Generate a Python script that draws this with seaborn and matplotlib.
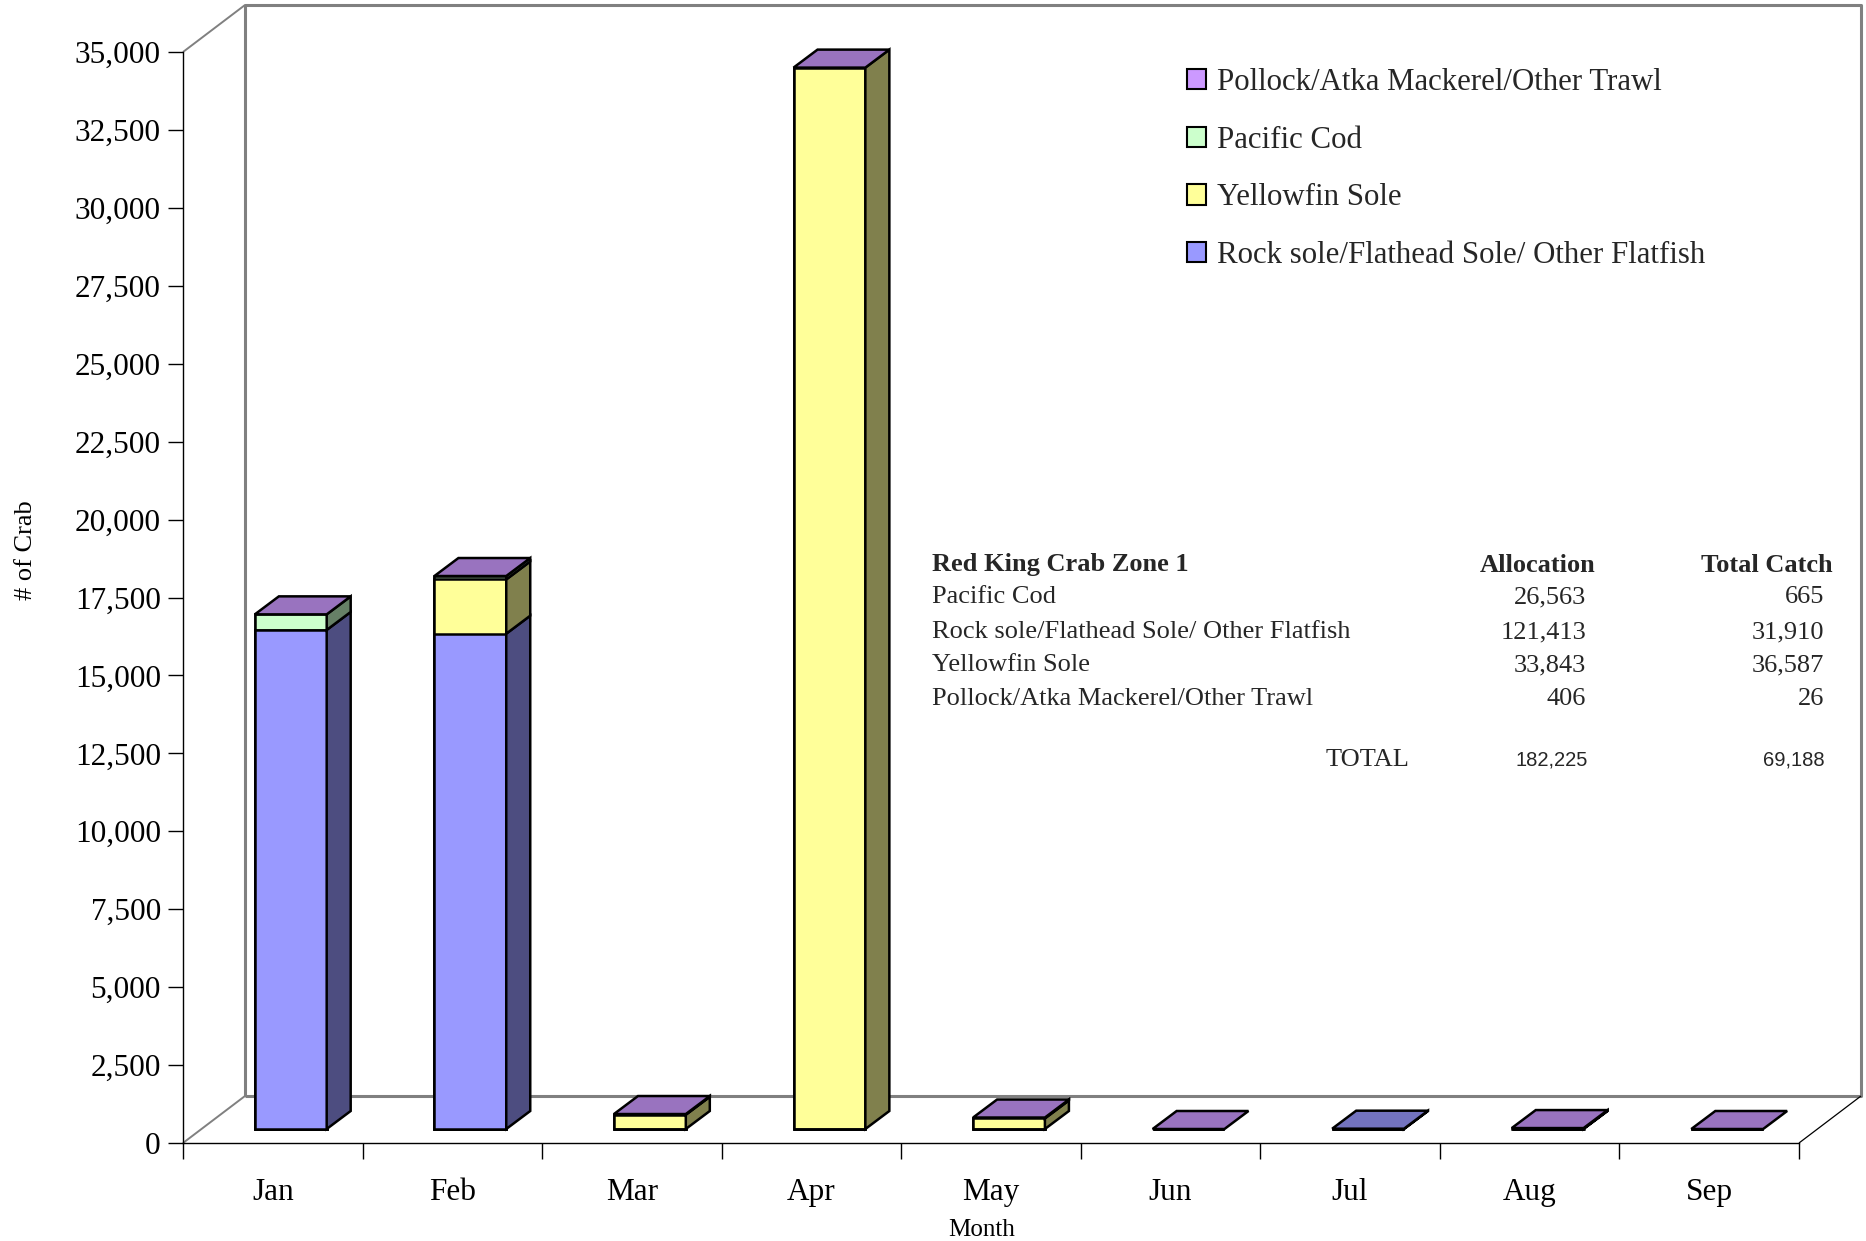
import numpy as np
import pandas as pd
import matplotlib
matplotlib.use("Agg")
import matplotlib.pyplot as plt
import seaborn as sns
from matplotlib.patches import Polygon, Patch
from matplotlib.lines import Line2D
from matplotlib.transforms import ScaledTranslation
from matplotlib.ticker import FuncFormatter, FixedLocator, FixedFormatter, NullFormatter

# ---------------- data ----------------
months = ["Jan", "Feb", "Mar", "Apr", "May", "Jun", "Jul", "Aug", "Sep"]
rock_sole = [16010, 15890, 0, 0, 0, 0, 10, 0, 0]
yellowfin = [0, 1740, 457, 34050, 340, 0, np.nan, 0, 0]
pacific_cod = [500, 110, 20, 0, 25, 0, np.nan, 10, 0]
pollock = [0, 0, 3, 0, 3, 0, np.nan, 20, 0]

series_names = ["Rock sole/Flathead Sole/ Other Flatfish", "Yellowfin Sole",
                "Pacific Cod", "Pollock/Atka Mackerel/Other Trawl"]
front_colors = ["#9999FF", "#FFFF99", "#CCFFCC", "#CC99FF"]
side_colors = ["#4D4D80", "#80804D", "#668066", "#664D80"]
top_colors = ["#7373BF", "#BFBF73", "#99BF99", "#9973BF"]

table_title = "Red King Crab Zone 1"
table_headers = ["Allocation", "Total Catch"]
table_species = ["Pacific Cod", "Rock sole/Flathead Sole/ Other Flatfish",
                 "Yellowfin Sole", "Pollock/Atka Mackerel/Other Trawl"]
table_allocation = ["26,563", "121,413", "33,843", "406"]
table_catch = ["665", "31,910", "36,587", "26"]
table_totals = ["182,225", "69,188"]

# ---------------- style ----------------
sns.set_theme(style="white")
plt.rcParams["font.family"] = ["Liberation Serif", "DejaVu Serif"]

W, H = 1866, 1241
fig = plt.figure(figsize=(W / 100, H / 100), dpi=100)
fig.patch.set_facecolor("white")
ax = fig.add_axes([183 / W, 1 - 1143 / H, 1616 / W, 1091 / H])
ax.set_facecolor("none")

vals = np.array([rock_sole, yellowfin, pacific_cod, pollock], dtype=float)
filled = np.nan_to_num(vals)
cum = np.cumsum(filled, axis=0)
bottoms = cum - filled

front_off = ScaledTranslation(18 / 100, 14 / 100, fig.dpi_scale_trans)
tr = ax.transData + front_off

patches_by_series = {}
for k in reversed(range(4)):
    df = pd.DataFrame({"Month": months, "Top": cum[k]})
    n0 = len(ax.patches)
    sns.barplot(data=df, x="Month", y="Top", order=months, color=front_colors[k],
                saturation=1, width=0.4, edgecolor="black", linewidth=1.8,
                errorbar=None, ax=ax, zorder=3)
    new = list(ax.patches[n0:])
    new.sort(key=lambda p: p.get_x())
    for p in new:
        p.set_transform(tr)
        p.set_clip_on(False)
    patches_by_series[k] = new

ax.set_xlim(-0.5, 8.5)
ax.set_ylim(0, 35000)

# depth of bars in data units
p0 = ax.transData.transform((0, 0))
pxu = ax.transData.transform((1, 0))[0] - p0[0]
pyu = ax.transData.transform((0, 1000))[1] - p0[1]
dx = 24 / pxu
dy = 18 * 1000 / pyu

for j in range(len(months)):
    for k in range(4):
        if filled[k, j] <= 0:
            continue
        p = patches_by_series[k][j]
        xr = p.get_x() + p.get_width()
        y0, y1 = bottoms[k, j], cum[k, j]
        side = Polygon([(xr, y0), (xr + dx, y0 + dy), (xr + dx, y1 + dy), (xr, y1)],
                       closed=True, facecolor=side_colors[k], edgecolor="black",
                       linewidth=1.8, transform=tr, clip_on=False, zorder=4)
        ax.add_patch(side)
    present = [k for k in range(4) if not np.isnan(vals[k, j])]
    kt = max(present)
    p = patches_by_series[kt][j]
    xl = p.get_x()
    xr = xl + p.get_width()
    T = cum[kt, j]
    top = Polygon([(xl, T), (xr, T), (xr + dx, T + dy), (xl + dx, T + dy)],
                  closed=True, facecolor=top_colors[kt], edgecolor="black",
                  linewidth=1.8, transform=tr, clip_on=False, zorder=5)
    ax.add_patch(top)

# ---------------- walls ----------------
A = ax.transAxes
inv = fig.transFigure.inverted()
off = np.array([62, 47])
F = {c: A.transform(c) for c in [(0, 0), (0, 1), (1, 0), (1, 1)]}
B = {c: F[c] + off for c in F}


def add_fig_line(pts, color, lw, z=0.5):
    pts = inv.transform(np.array(pts))
    ax.add_line(Line2D(pts[:, 0], pts[:, 1], color=color, linewidth=lw,
                       transform=fig.transFigure, clip_on=False, zorder=z,
                       solid_capstyle="butt"))


add_fig_line([B[(0, 0)], B[(0, 1)], B[(1, 1)], B[(1, 0)], B[(0, 0)]], "#808080", 2.2)
add_fig_line([F[(0, 1)], B[(0, 1)]], "#808080", 1.4)
add_fig_line([F[(0, 0)], B[(0, 0)]], "#808080", 1.4)
add_fig_line([F[(1, 0)], B[(1, 0)]], "black", 0.9)

# ---------------- axes ----------------
for s in ["top", "right"]:
    ax.spines[s].set_visible(False)
for s in ["left", "bottom"]:
    ax.spines[s].set_visible(True)
    ax.spines[s].set_color("black")
    ax.spines[s].set_linewidth(1.0)
ax.grid(False)

ax.xaxis.set_major_locator(FixedLocator(np.arange(-0.5, 9, 1)))
ax.xaxis.set_major_formatter(NullFormatter())
ax.xaxis.set_minor_locator(FixedLocator(np.arange(9)))
ax.xaxis.set_minor_formatter(FixedFormatter(months))
ax.tick_params(axis="x", which="major", bottom=True, length=11.5, width=1,
               direction="out", color="black")
ax.tick_params(axis="x", which="minor", bottom=True, length=0, pad=25.5,
               labelsize=22.5, labelcolor="black")

ax.set_yticks(np.arange(0, 35001, 2500))
ax.yaxis.set_major_formatter(FuncFormatter(lambda v, _: f"{int(v):,}"))
ax.tick_params(axis="y", left=True, length=11, width=1, direction="out",
               pad=5, labelsize=22.5, color="black", labelcolor="black")

ax.set_xlabel("Month", fontsize=18, color="black")
ax.xaxis.set_label_coords((982 - 183) / 1616, (1143 - 1230) / 1091)
ax.xaxis.label.set_va("center")
ax.set_ylabel("# of Crab", fontsize=19, color="black")
ax.yaxis.set_label_coords((26 - 183) / 1616, (1143 - 550) / 1091)
ax.yaxis.label.set_va("center")
ax.yaxis.label.set_ha("center")

# ---------------- legend ----------------
handles = [Patch(facecolor=front_colors[k], edgecolor="black", linewidth=1.5,
                 label=series_names[k]) for k in reversed(range(4))]
ax.legend(handles=handles, loc="upper left",
          bbox_to_anchor=(1187 / W, 1 - 68 / H), bbox_transform=fig.transFigure,
          frameon=False, fontsize=22.2, handlelength=0.63, handleheight=0.63,
          handletextpad=0.33, labelspacing=0.93, borderpad=0, borderaxespad=0)

# ---------------- table ----------------
def fy(py):
    return 1 - py / H


fs = 19
fig.text(932 / W, fy(565), table_title, fontsize=fs, fontweight="bold", va="center", ha="left")
fig.text(1596 / W, fy(565), table_headers[0], fontsize=fs, fontweight="bold", va="center", ha="right")
fig.text(1833 / W, fy(565), table_headers[1], fontsize=fs, fontweight="bold", va="center", ha="right")
row_y = [597, 632, 665, 699]
for name, a, c, yy in zip(table_species, table_allocation, table_catch, row_y):
    fig.text(932 / W, fy(yy), name, fontsize=fs, va="center", ha="left")
    fig.text(1586 / W, fy(yy), a, fontsize=fs, va="center", ha="right")
    fig.text(1824 / W, fy(yy), c, fontsize=fs, va="center", ha="right")
fig.text(1409 / W, fy(760), "TOTAL", fontsize=fs, va="center", ha="right")
fig.text(1588 / W, fy(760), table_totals[0], fontsize=14.5, va="center", ha="right",
         family=["Liberation Sans", "DejaVu Sans"])
fig.text(1825 / W, fy(760), table_totals[1], fontsize=14.5, va="center", ha="right",
         family=["Liberation Sans", "DejaVu Sans"])

fig.savefig("out.png", dpi=100, facecolor="white")
